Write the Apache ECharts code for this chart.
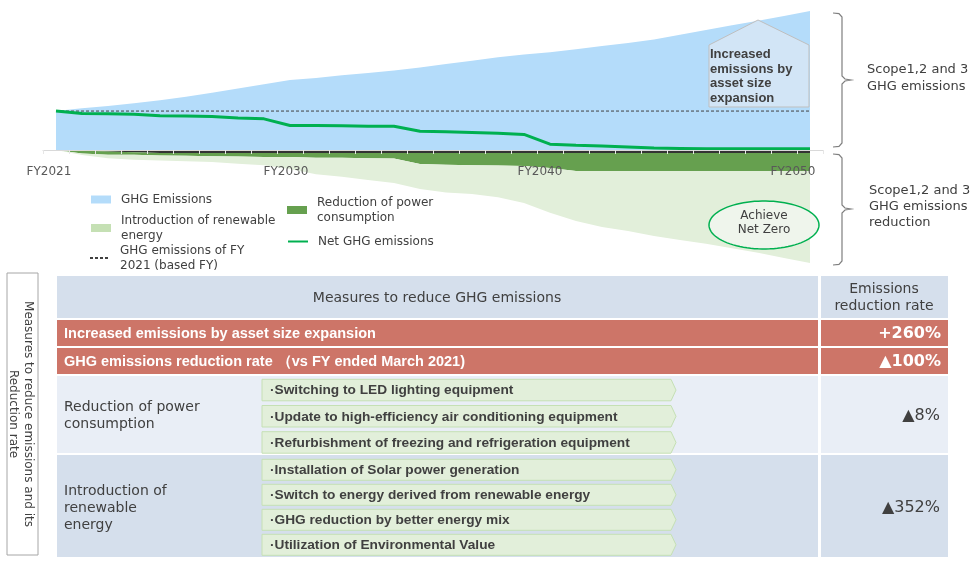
<!DOCTYPE html>
<html><head><meta charset="utf-8">
<script src="https://cdn.jsdelivr.net/npm/echarts@6/dist/echarts.min.js"></script>
<style>html,body{margin:0;padding:0;background:#fff}#c{width:978px;height:568px}</style>
</head><body><div id="c"></div>
<script>
// ---------- data ----------
const years = ['2021','2022','2023','2024','2025','2026','2027','2028','2029','2030',
               '2031','2032','2033','2034','2035','2036','2037','2038','2039','2040',
               '2041','2042','2043','2044','2045','2046','2047','2048','2049','2050'];
const xLabelYears = ['2021','2030','2040','2050'];
// index: FY2021 = 100
const ghgEmissions = [100,107,113,120,128,137,147,158,169,180,
                      185,192,198,204,212,221,229,238,245,251,
                      259,267,275,284,296,308,320,332,344,357];
const netEmissions = [100,94,93,92,88,87,86,82,80,63,
                      63,62,61,61,48,47,45,43,40,15,
                      12,10,8,5,4,3,3,3,3,3];
const baseFY2021 = [100,100,100,100,100,100,100,100,100,100,
                    100,100,100,100,100,100,100,100,100,100,
                    100,100,100,100,100,100,100,100,100,100];
const axisBand = [0,-1,-4,-6,-8,-8,-8,-8,-8,-8,
                  -8,-8,-8,-8,-8,-8,-8,-8,-8,-8,
                  -8,-8,-8,-8,-8,-8,-8,-8,-8,-8];
const powerReduction = [0,-8,-8,-6,-6,-7,-8,-9,-10,-10,
                        -12,-12,-13,-14,-28,-30,-31,-32,-33,-38,
                        -46,-46,-46,-46,-46,-46,-46,-46,-46,-46];
const renewableReduction = [0,-4,-9,-13,-13,-14,-15,-18,-21,-31,
                            -42,-49,-56,-63,-64,-71,-74,-81,-95,-115,
                            -128,-144,-154,-167,-177,-187,-198,-210,-223,-236];

const legendLabels = {
  'GHG Emissions': 'GHG Emissions',
  'Introduction of renewable energy': 'Introduction of renewable\nenergy',
  'GHG emissions of FY 2021 (based FY)': 'GHG emissions of FY\n2021 (based FY)',
  'Reduction of power consumption': 'Reduction of power\nconsumption',
  'Net GHG emissions': 'Net GHG emissions'
};
const houseNote = 'Increased\nemissions by\nasset size\nexpansion';
const netZeroNote = 'Achieve\nNet Zero';
const braceLabels = ['Scope1,2 and 3\nGHG emissions', 'Scope1,2 and 3\nGHG emissions\nreduction'];

const sideTitle = 'Measures to reduce emissions and its\nReduction rate';
const tableHeader = ['Measures to reduce GHG emissions', 'Emissions\nreduction rate'];
const summaryLabels = ['Increased emissions by asset size expansion', 'GHG emissions reduction rate （vs FY ended March 2021)'];
const summaryRates = ['+260%', '▲100%'];
const groupLabels = ['Reduction of power\nconsumption', 'Introduction of\nrenewable\nenergy'];
const groupRates = ['▲8%', '▲352%'];
const powerMeasures = ['·Switching to LED lighting equipment',
                       '·Update to high-efficiency air conditioning equipment',
                       '·Refurbishment of freezing and refrigeration equipment'];
const renewableMeasures = ['·Installation of Solar power generation',
                           '·Switch to energy derived from renewable energy',
                           '·GHG reduction by better energy mix',
                           '·Utilization of Environmental Value'];

// ---------- styles ----------
const REG = 'DejaVu Sans';
const BOLD = 'Liberation Sans';
const TXT = '#404040';
const labelShift = {'2021': 14, '2030': 8, '2040': 20, '2050': 34};

const chart = echarts.init(document.getElementById('c'));

const G = [];
function txt(x, y, text, o) {
  o = o || {};
  G.push({type:'text', x:x, y:y, rotation:o.rotation||0, z:100, silent:true,
    style:{x:0, y:0, text:text, fill:o.fill||TXT,
      font:(o.weight||'normal')+' '+(o.size||13)+'px "'+(o.family||REG)+'"',
      textAlign:o.align||'left', textVerticalAlign:o.valign||'middle', lineHeight:o.lh||16}});
}
function rect(x, y, w, h, fill, stroke) {
  G.push({type:'rect', z:90, silent:true, shape:{x:x, y:y, width:w, height:h},
    style:{fill:fill||'none', stroke:stroke||null, lineWidth:1}});
}

// house callout
G.push({type:'polygon', z:95, silent:true,
  shape:{points:[[709,45],[758,20],[809,45],[809,107],[709,107]]},
  style:{fill:'#d2e5f6', stroke:'#bfbfbf', lineWidth:1}});
txt(710, 47, houseNote, {weight:'bold', family:BOLD, size:13, valign:'top', lh:14.7});

// net zero ellipse
const ell = [];
for (let i = 0; i < 90; i++) { const a = i / 90 * Math.PI * 2; ell.push([764 + 55 * Math.cos(a), 225 + 24 * Math.sin(a)]); }
G.push({type:'polygon', z:95, silent:true, shape:{points:ell}, style:{fill:'#eff5ec', stroke:'#00b050', lineWidth:1.5}});
txt(764, 223, netZeroNote, {align:'center', size:12, lh:14.5});

// braces
function brace(t, m, b) {
  G.push({type:'polyline', z:95, silent:true,
    shape:{points:[[833,t],[839,t+0.6],[842,t+4],[842,m-4],[845,m-1],[851,m],[845,m+1],[842,m+4],[842,b-4],[839,b-0.6],[833,b]]},
    style:{stroke:'#7f7f7f', lineWidth:1.2, fill:null}});
}
brace(13, 80, 147);
brace(154, 209, 265);
txt(867, 78, braceLabels[0], {size:13, lh:16.7});
txt(869, 207, braceLabels[1], {size:13, lh:16});

// side title box
rect(7, 273, 31, 282, null, '#a6a6a6');
txt(21, 414, sideTitle, {align:'center', size:12, lh:15, rotation:-Math.PI / 2});

// table header
rect(57, 276, 761, 42, '#d5dfec');
rect(821, 276, 127, 42, '#d5dfec');
txt(437, 298, tableHeader[0], {align:'center', size:14});
txt(884, 298, tableHeader[1], {align:'center', size:14, lh:17.4});

// summary rows
const sumY = [320, 348];
summaryLabels.forEach((s, i) => {
  rect(57, sumY[i], 761, 26, '#cd7568');
  rect(821, sumY[i], 127, 26, '#cd7568');
  txt(64, sumY[i] + 13.5, s, {weight:'bold', family:BOLD, size:14.5, fill:'#fff'});
  txt(941, sumY[i] + 13.5, summaryRates[i], {weight:'bold', size:16, fill:'#fff', align:'right'});
});

// group rows
const groupY = [[376, 77], [455, 102]];
const groupFill = ['#e9eef6', '#d5dfec'];
const groupMid = [415.5, 508];
groupLabels.forEach((s, i) => {
  rect(57, groupY[i][0], 761, groupY[i][1], groupFill[i]);
  rect(821, groupY[i][0], 127, groupY[i][1], groupFill[i]);
  txt(64, groupMid[i], s, {size:14, lh:17});
  txt(940, groupMid[i], groupRates[i], {size:16, align:'right'});
});
function arrowBox(y0, h, text) {
  const y1 = y0 + h, ym = y0 + h / 2;
  G.push({type:'polygon', z:95, silent:true,
    shape:{points:[[262,y0],[671,y0],[676,ym],[671,y1],[262,y1]]},
    style:{fill:'#e2efda', stroke:'#c5e0b4', lineWidth:1}});
  txt(270, ym + 0.5, text, {weight:'bold', family:BOLD, size:13.7});
}
powerMeasures.forEach((m, i) => arrowBox(379.3 + i * 26.2, 21.5, m));
renewableMeasures.forEach((m, i) => arrowBox(459.3 + i * 25, 21, m));

// ---------- chart ----------
const legendCommon = {
  orient:'horizontal', padding:0, itemWidth:20, itemHeight:8, selectedMode:false,
  formatter: n => legendLabels[n],
  textStyle:{fontFamily:REG, fontSize:12, color:TXT, lineHeight:15, padding:[0,0,0,5]}
};
const rich = {};
xLabelYears.forEach(y => { rich['y' + y] = {fontFamily:REG, fontSize:12, color:'#595959', padding:[0, labelShift[y], 0, 0]}; });

const areaSeries = (name, data, color, area, stack, z) => ({
  name:name, type:'line', data:data, symbol:'none', z:z, clip:false, stack:stack,
  lineStyle:{width:0}, itemStyle:{color:color}, areaStyle:{color:area, opacity:1}
});

const option = {
  animation:false,
  backgroundColor:'#fff',
  grid:{left:43, right:155, top:2, bottom:418, containLabel:false},
  legend:[
    Object.assign({left:91, top:192, data:[{name:'GHG Emissions', icon:'rect', itemStyle:{color:'#b4dcfa', borderWidth:0}}]}, legendCommon),
    Object.assign({left:91, top:213, data:[{name:'Introduction of renewable energy', icon:'rect', itemStyle:{color:'#c5e0b4', borderWidth:0}}]}, legendCommon),
    Object.assign({left:89, top:243, data:[{name:'GHG emissions of FY 2021 (based FY)', itemStyle:{opacity:0}}]}, legendCommon),
    Object.assign({left:287, top:195, data:[{name:'Reduction of power consumption', icon:'rect', itemStyle:{color:'#66a04f', borderWidth:0}}]}, legendCommon),
    Object.assign({left:287, top:234, data:[{name:'Net GHG emissions', itemStyle:{opacity:0}}]}, legendCommon)
  ],
  xAxis:{
    type:'category', data:years, boundaryGap:true, z:5,
    axisLine:{show:true, onZero:false, lineStyle:{color:'#d9d9d9', width:1}},
    axisTick:{show:true, interval:0, length:4, lineStyle:{color:'#e6e6e6'}},
    splitLine:{show:false},
    axisLabel:{
      interval:(i, v) => xLabelYears.includes(v),
      margin:16, overflow:'none', hideOverlap:false,
      formatter:v => '{y' + v + '|FY' + v + '}',
      rich:rich
    }
  },
  yAxis:{type:'value', min:0, max:380, show:false, splitLine:{show:false}},
  graphic:{elements:G},
  series:[
    areaSeries('GHG Emissions', ghgEmissions, '#b4dcfa', '#b4dcfa', undefined, 1),
    areaSeries('axisBand', axisBand, '#333333', '#333333', 'reduction', 2),
    areaSeries('Reduction of power consumption', powerReduction, '#66a04f', '#66a04f', 'reduction', 2),
    areaSeries('Introduction of renewable energy', renewableReduction, '#c5e0b4', '#e2efda', 'reduction', 2),
    {name:'GHG emissions of FY 2021 (based FY)', type:'line', data:baseFY2021, symbol:'none', z:3, clip:false,
     itemStyle:{color:'#404040'}, lineStyle:{color:'#404040', width:1, type:[3,2]}},
    {name:'Net GHG emissions', type:'line', data:netEmissions, symbol:'none', z:4, clip:false,
     itemStyle:{color:'#00b050'}, lineStyle:{color:'#00b050', width:3}}
  ]
};
chart.setOption(option);
</script>
</body></html>
